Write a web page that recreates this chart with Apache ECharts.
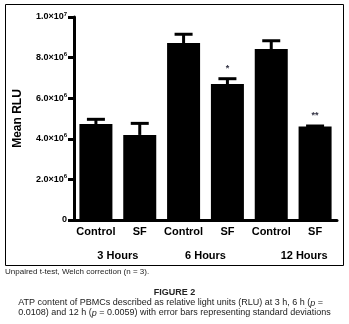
<!DOCTYPE html>
<html>
<head>
<meta charset="utf-8">
<script src="https://cdn.jsdelivr.net/npm/echarts@6/dist/echarts.min.js"></script>
<style>
  html, body { margin: 0; padding: 0; background: #fff; }
  #chart { width: 349px; height: 324px; }
</style>
</head>
<body>
<div id="chart"></div>
<script>
  // values
  var barLabels = ['Control', 'SF', 'Control', 'SF', 'Control', 'SF']
  var groupLabels = ['3 Hours', '6 Hours', '12 Hours']
  var meanRLU = [4.73e6, 4.19e6, 8.72e6, 6.70e6, 8.42e6, 4.60e6]
  var sdRLU = [0.23e6, 0.57e6, 0.43e6, 0.26e6, 0.41e6, 0.03e6]
  var stars = ['', '', '', '*', '', '**']
  var yTicks = { 0: ['0', ''], 2e6: ['2.0×10', '6'], 4e6: ['4.0×10', '6'], 6e6: ['6.0×10', '6'], 8e6: ['8.0×10', '6'], 1e7: ['1.0×10', '7'] }

  var chart = echarts.init(document.getElementById('chart'))
  var font = 'Liberation Sans, Arial, sans-serif'

  var errData = meanRLU.map(function (v, i) { return [i, v, v + sdRLU[i], stars[i]] })

  chart.setOption({
    animation: false,
    grid: { left: 74, right: 12, top: 17, bottom: 104 },
    xAxis: [
      {
        type: 'category',
        data: barLabels,
        axisLine: { lineStyle: { color: '#000', width: 3 } },
        axisTick: { alignWithLabel: true, length: 5, lineStyle: { color: '#000', width: 3 } },
        axisLabel: { interval: 0, color: '#000', fontFamily: font, fontWeight: 'bold', fontSize: 11, margin: 6 }
      },
      {
        type: 'category',
        data: groupLabels,
        position: 'bottom',
        offset: 22,
        axisLine: { show: false },
        axisTick: { show: false },
        axisLabel: {
          interval: 0, color: '#000', fontFamily: font, fontWeight: 'bold', fontSize: 11,
          formatter: function (v, i) { return i === 2 ? '{r|' + v + '}' : v },
          rich: { r: { fontFamily: font, fontWeight: 'bold', fontSize: 11, padding: [0, 0, 0, 22] } }
        }
      }
    ],
    yAxis: {
      type: 'value',
      min: 0,
      max: 1e7,
      interval: 2e6,
      name: 'Mean RLU',
      nameLocation: 'middle',
      nameGap: 50,
      nameTextStyle: { color: '#000', fontFamily: font, fontWeight: 'bold', fontSize: 12 },
      splitLine: { show: false },
      axisLine: { show: true, lineStyle: { color: '#000', width: 3 } },
      axisTick: { show: true, length: 6, lineStyle: { color: '#000', width: 3 } },
      axisLabel: {
        color: '#000', margin: 7,
        formatter: function (v) {
          var t = yTicks[v]
          return t[1] ? '{b|' + t[0] + '}{s|' + t[1] + '}' : '{b|' + t[0] + '}'
        },
        rich: {
          b: { fontFamily: font, fontWeight: 'bold', fontSize: 9, color: '#000', lineHeight: 12 },
          s: { fontFamily: font, fontWeight: 'bold', fontSize: 6, color: '#000', verticalAlign: 'top', lineHeight: 12, padding: [0, 0, 5, 0] }
        }
      }
    },
    series: [
      {
        type: 'bar',
        data: meanRLU,
        barWidth: 33,
        itemStyle: { color: '#000' }
      },
      {
        type: 'custom',
        data: errData,
        z: 5,
        renderItem: function (params, api) {
          var low = api.coord([api.value(0), api.value(1)])
          var high = api.coord([api.value(0), api.value(2)])
          var half = 9
          var kids = [
            { type: 'line', shape: { x1: low[0], y1: low[1], x2: high[0], y2: high[1] }, style: { stroke: '#000', lineWidth: 3 } },
            { type: 'line', shape: { x1: high[0] - half, y1: high[1], x2: high[0] + half, y2: high[1] }, style: { stroke: '#000', lineWidth: 3 } }
          ]
          var s = errData[params.dataIndex][3]
          if (s) {
            kids.push({
              type: 'text',
              style: { text: s, x: high[0], y: high[1] - 6, align: 'center', verticalAlign: 'bottom', fill: '#334', font: 'bold 9px ' + font }
            })
          }
          return { type: 'group', children: kids }
        }
      }
    ],
    graphic: [
      { type: 'rect', shape: { x: 5.5, y: 4.5, width: 338, height: 261 }, style: { fill: 'none', stroke: '#000', lineWidth: 1 }, silent: true },
      { type: 'text', left: 5, top: 268, style: { text: 'Unpaired t-test, Welch correction (n = 3).', fill: '#222', font: '8px ' + font } },
      { type: 'text', left: 'center', top: 288, style: { text: 'FIGURE 2', fill: '#222', font: 'bold 9px ' + font } },
      {
        type: 'text', left: 'center', top: 298,
        style: {
          text: 'ATP content of PBMCs described as relative light units (RLU) at 3 h, 6 h ({i|p} =\n0.0108) and 12 h ({i|p} = 0.0059) with error bars representing standard deviations',
          fill: '#222', font: '9px ' + font, align: 'center', lineHeight: 10,
          rich: { i: { fontStyle: 'italic', fontSize: 9, fontFamily: font, fill: '#222' } }
        }
      }
    ]
  })
</script>
</body>
</html>
